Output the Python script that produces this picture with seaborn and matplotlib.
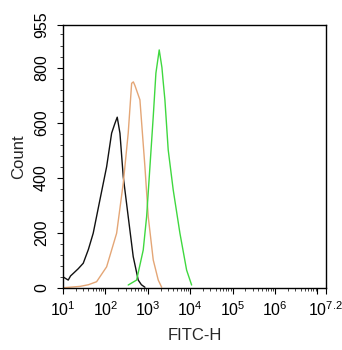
import matplotlib
matplotlib.use("Agg")

import numpy as np
import pandas as pd
import matplotlib.pyplot as plt
import matplotlib.ticker as mticker
import seaborn as sns

# Histogram outlines (log10 of FITC-H, count)
black_log = [1.0, 1.06, 1.125, 1.18, 1.243, 1.36, 1.479, 1.60, 1.714, 1.872, 2.030, 2.148, 2.22, 2.280, 2.344,
             2.422, 2.539, 2.657, 2.775, 2.85, 2.933]
black_cnt = [41, 35, 29, 44, 53, 70, 90, 140, 199, 320, 440, 562, 595, 620, 562,
             404, 259, 114, 29, 12, 3]

orange_log = [1.0, 1.401, 1.60, 1.794, 2.030, 2.266, 2.422, 2.539, 2.620, 2.66, 2.697, 2.815, 2.933,
              3.011, 3.129, 3.247, 3.327]
orange_cnt = [1, 6, 12, 23, 77, 199, 380, 562, 743, 748, 735, 683, 440,
              259, 102, 29, 3]

green_log = [2.539, 2.737, 2.893, 2.973, 3.051, 3.129, 3.192, 3.270, 3.334, 3.357, 3.404, 3.482,
             3.600, 3.758, 3.916, 4.034]
green_cnt = [11, 29, 138, 259, 440, 622, 780, 864, 800, 760, 683, 501,
             356, 199, 65, 11]

x_ticks = [1, 2, 3, 4, 5, 6, 7, 7.2]
x_labels = ["$10^{1}$", "$10^{2}$", "$10^{3}$", "$10^{4}$", "$10^{5}$", "$10^{6}$", "", "$10^{7.2}$"]
y_ticks = [0, 200, 400, 600, 800, 955]

frames = []
for name, lx, cnt in [("black", black_log, black_cnt),
                      ("orange", orange_log, orange_cnt),
                      ("green", green_log, green_cnt)]:
    frames.append(pd.DataFrame({"fitc": np.power(10.0, lx), "count": cnt, "sample": name}))
df = pd.concat(frames, ignore_index=True)

sns.set_style("ticks")
plt.rcParams['font.family'] = ['Liberation Sans', 'DejaVu Sans']
plt.rcParams['mathtext.fontset'] = 'custom'
plt.rcParams['mathtext.rm'] = 'Liberation Sans'
plt.rcParams['mathtext.it'] = 'Liberation Sans'

fig = plt.figure(figsize=(3.42, 3.5), dpi=100)
ax = fig.add_axes([0.184, 0.177, 0.769, 0.752])

sns.lineplot(data=df, x="fitc", y="count", hue="sample",
             palette={"black": "#111111", "orange": "#e4a676", "green": "#3fd83f"},
             linewidth=1.0, legend=False, ax=ax, estimator=None, sort=False)

ax.set_xscale("log")
ax.set_xlim(10, 10 ** 7.2)
ax.set_ylim(0, 955)

ax.xaxis.set_major_locator(mticker.FixedLocator([10 ** t for t in x_ticks]))
ax.xaxis.set_major_formatter(mticker.FixedFormatter(x_labels))
ax.xaxis.set_minor_locator(mticker.LogLocator(base=10, subs=np.arange(2, 10), numticks=20))
ax.xaxis.set_minor_formatter(mticker.NullFormatter())

ax.yaxis.set_major_locator(mticker.FixedLocator(y_ticks))
ax.yaxis.set_minor_locator(mticker.MultipleLocator(40))

for side in ["top", "right", "left", "bottom"]:
    ax.spines[side].set_visible(True)
    ax.spines[side].set_linewidth(1.0)
    ax.spines[side].set_color("black")

ax.tick_params(axis="both", which="major", length=4, width=0.8, labelsize=11.5, colors="black")
ax.tick_params(axis="both", which="minor", length=2, width=0.6)
ax.tick_params(axis="y", labelrotation=90, pad=6)
ax.tick_params(axis="x", pad=5)
for lab in ax.get_yticklabels():
    lab.set_va("center")

ax.set_xlabel("FITC-H", fontsize=12, labelpad=6)
ax.set_ylabel("Count", fontsize=12, labelpad=6)

fig.savefig("out.png", dpi=100)
plt.close(fig)
